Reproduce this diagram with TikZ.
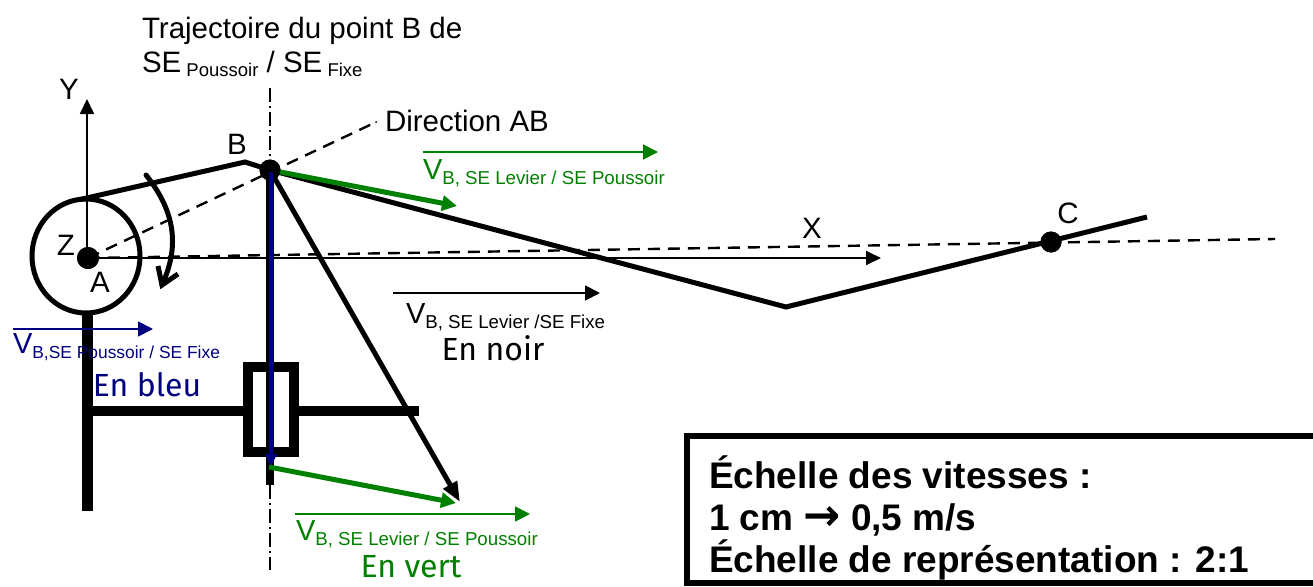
\documentclass[tikz,border=0pt]{standalone}
\usepackage{fontspec}
\setmainfont{Liberation Sans}
\newfontfamily\handfont{Fira Sans}
\newfontfamily\arrowfont[Scale=1.2]{DejaVu Sans}
\usetikzlibrary{arrows.meta}
\definecolor{vgreen}{RGB}{0,128,0}
\definecolor{vblue}{RGB}{0,0,128}
\newcommand{\lab}[1]{\fontsize{#1}{#1}\selectfont}
\newcommand{\vlab}[2][18.7]{{\lab{29}V}\raisebox{-5pt}{\lab{#1}#2}}
\tikzset{
  x=1pt,y=-1pt,
  txt/.style={anchor=base west,inner sep=0pt,outer sep=0pt,font=\lab{29.5}},
  ctr/.style={anchor=center,inner sep=0pt,outer sep=0pt,font=\lab{29.5}},
  hand/.style={anchor=center,inner sep=0pt,outer sep=0pt,font=\handfont\lab{32}},
  body/.style={line width=5pt,black,line join=miter},
  frame/.style={line width=10.5pt,black},
  axis/.style={line width=1.8pt,black,-{Triangle[length=15pt,width=14pt]}},
  dashline/.style={line width=2.4pt,black,dash pattern=on 12pt off 8pt},
  traj/.style={line width=2.4pt,black,dash pattern=on 14pt off 4pt on 2pt off 4pt},
  vec/.style={line width=1.8pt,-{Triangle[length=15pt,width=15pt]}},
  thickvec/.style={line width=5pt,-{Triangle[length=15pt,width=15pt]}},
  dot/.style={circle,fill=black,inner sep=0pt,minimum size=#1}
}
\begin{document}
\begin{tikzpicture}
\useasboundingbox (0,0) rectangle (1313,586);
% points
\node[dot=22pt] (ptA) at (88,258) {};
\node[dot=21pt] (ptB) at (270,170) {};
\node[dot=21pt] (ptC) at (1051,242) {};
\coordinate (yTip) at (87,99);
\coordinate (xTip) at (881,258);
\coordinate (abEnd) at (372,124);
\coordinate (abDot) at (376,122);
\coordinate (xEnd) at (1275,239);
\coordinate (tTop) at (270,88);
\coordinate (tBot) at (270,570);
\coordinate (tLow) at (270,485);
\coordinate (blueS) at (271,172);
\coordinate (blueTip) at (271,467);
\coordinate (blackTip) at (460,502);
\coordinate (greenTopTip) at (457,206);
\coordinate (greenLowS) at (269,467);
\coordinate (greenLowTip) at (456,503);
\coordinate (linkS) at (80,199.5);
\coordinate (linkK) at (245,162);
\coordinate (linkV) at (786,307);
\coordinate (linkE) at (1147,217);
\coordinate (supT) at (87,313);
\coordinate (supB) at (87,511);
\coordinate (armL) at (87,411);
\coordinate (armM) at (243,411);
\coordinate (armR) at (299,411);
\coordinate (armE) at (419,411);
\coordinate (rotS) at (146,175);
\coordinate (rotE) at (162,285);

% construction lines
\draw[dashline] (ptA.center) -- (abEnd);
\fill (abDot) circle (1pt);
\draw[dashline] (ptA.center) -- (xEnd);
\draw[traj] (tTop) -- (ptB.center);
\draw[traj] (tLow) -- (tBot);
\draw[axis] (ptA.center) -- (xTip);
\draw[axis] (ptA.center -| yTip) -- (yTip);

% mechanism
\draw[line width=5pt] (86,256) ellipse (54pt and 57pt);
\draw[body] (linkS) -- (linkK) -- (ptB.center) -- (linkV) -- (linkE);
\draw[frame,line width=11pt] (supT) -- (supB);
\draw[frame] (armL) -- (armM);
\draw[frame] (armR) -- (armE);
\draw[line width=10pt] (248,366.5) rectangle (293.5,452);

% velocity vectors on the figure
\draw[line width=7.5pt] (ptB.center) -- (tLow);
\draw[line width=5pt,-{Triangle[length=20pt,width=15pt]}] (ptB.center) -- (blackTip);
\draw[vgreen,thickvec] (ptB.center) -- (greenTopTip);
\fill[black] (ptB) circle (10.5pt);
\draw[vblue,line width=4.5pt,-{Triangle[length=13pt,width=11pt]}] (blueS) -- (blueTip);
\draw[vgreen,thickvec] (greenLowS) -- (greenLowTip);

% rotation arrow
\draw[line width=5pt,line cap=round] (rotS) .. controls (178,215) and (178,250) .. (rotE);
\coordinate (rotB1) at (158,266);
\coordinate (rotB2) at (178,274);
\draw[line width=5pt] (rotB1) -- (rotE) -- (rotB2);

\fill[black] (ptC) circle (10.5pt);
\fill[black] (ptA) circle (11pt);

% labels
\node[txt] (t1) at (142,38) {Trajectoire du point B de};
\node[txt] (t2) at (142,73) {SE\raisebox{-4pt}{\lab{18.5} Poussoir} / SE\raisebox{-4pt}{\lab{18.5} Fixe}};
\node[ctr] (lY) at (69,89) {Y};
\node[ctr] (lZ) at (66,245) {Z};
\node[ctr] (lA) at (100,282) {A};
\node[ctr] (lB) at (237,144) {B};
\node[ctr] (lX) at (812,228) {X};
\node[ctr] (lC) at (1068,213) {C};
\node[txt] (lDir) at (385,131) {Direction AB};

% legend vectors
\coordinate (gaS) at (423,152); \coordinate (gaE) at (658,152);
\draw[vgreen,vec] (gaS) -- (gaE);
\node[txt,text=vgreen] (gaT) at (423,179) {\vlab{B, SE Levier / SE Poussoir}};
\coordinate (kaS) at (393,293); \coordinate (kaE) at (600,293);
\draw[black,vec] (kaS) -- (kaE);
\node[txt] (kaT) at (406,323) {\vlab{B, SE Levier /SE Fixe}};
\node[hand] (kaN) at (493,348) {En noir};
\coordinate (baS) at (13,329); \coordinate (baE) at (153,329);
\draw[vblue,vec] (baS) -- (baE);
\node[txt,text=vblue] (baT) at (13,353) {\vlab[17.4]{B,SE Poussoir  / SE Fixe}};
\node[hand,text=vblue] (baN) at (147,385) {En bleu};
\coordinate (glS) at (295,514); \coordinate (glE) at (530,514);
\draw[vgreen,vec] (glS) -- (glE);
\node[txt,text=vgreen] (glT) at (296,540) {\vlab{B, SE Levier / SE Poussoir}};
\node[hand,text=vgreen] (glN) at (411,567) {En vert};

% scale box
\coordinate (bTR) at (1313,436); \coordinate (bTL) at (687,436);
\coordinate (bBL) at (687,583); \coordinate (bBR) at (1313,583);
\draw[line width=6pt] (bTR) -- (bTL) -- (bBL) -- (bBR);
\node[txt,font=\bfseries\lab{37}] (s1) at (709,488) {Échelle des vitesses :};
\node[txt,font=\bfseries\lab{37}] (s2) at (709,530) {1 cm {\arrowfont\bfseries →} 0,5 m/s};
\node[txt,font=\bfseries\lab{37}] (s3) at (709,572) {Échelle de représentation : 2:1};
\end{tikzpicture}
\end{document}
